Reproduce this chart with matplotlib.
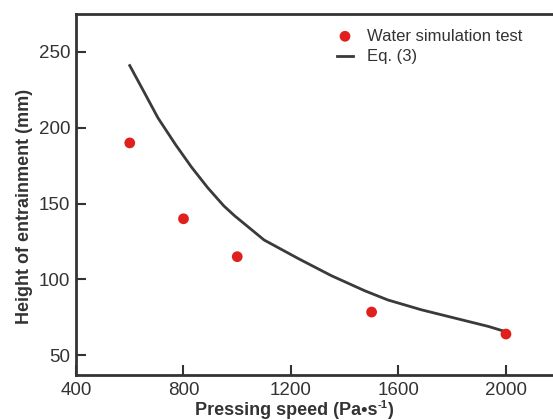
import numpy as np
import matplotlib.pyplot as plt

plt.rcParams['font.family'] = ['Liberation Sans', 'DejaVu Sans']

# water simulation test points
test_speed = [600, 800, 1000, 1500, 2000]
test_height = [190, 140, 115, 78.5, 64]

# Eq. (3) curve
eq_speed = [600, 655, 705, 770, 830, 890, 950, 990, 1100, 1230, 1350, 1475,
            1560, 1685, 1810, 1935, 2000]
eq_height = [241, 223, 206.5, 189, 174, 160.5, 148.5, 142, 126, 113.5, 102.5, 92.5,
             86.5, 80, 74.5, 69, 65.5]

xticks = [400, 800, 1200, 1600, 2000]
yticks = [50, 100, 150, 200, 250]

dark = '#333333'

fig = plt.figure(figsize=(5.53, 4.2), dpi=100)
ax = fig.add_axes([76/553, 1-375/420, 1-76/553, (375-14)/420])

line, = ax.plot(eq_speed, eq_height, color='#3a3a3a', lw=2, label='Eq. (3)', zorder=2)
pts = ax.scatter(test_speed, test_height, s=60, color='#e0201c', edgecolors='none',
                 label='Water simulation test', zorder=3)

ax.set_xlim(400, 2175)
ax.set_ylim(37, 275)
ax.set_xticks(xticks)
ax.set_yticks(yticks)
ax.tick_params(direction='in', length=7, width=1.5, color=dark,
               labelsize=13.5, labelcolor=dark, pad=4)
ax.tick_params(axis='x', pad=5)
for s in ['left', 'bottom', 'top']:
    ax.spines[s].set_linewidth(2)
    ax.spines[s].set_color(dark)
ax.spines['right'].set_visible(False)

# x label built from pieces so the superscript stays small
lab = dict(fontsize=13, fontweight='bold', color=dark)
t1 = fig.text(195/553, 1-415/420, 'Pressing speed (Pa\u2022s', ha='left', va='baseline', **lab)
t2 = ax.annotate('-1', xy=(1, 0.55), xycoords=t1, ha='left', va='bottom',
                 fontsize=8, fontweight='bold', color=dark)
ax.annotate(')', xy=(1, 0), xycoords=(t2, t1), ha='left', va='bottom', **lab)

ax.set_ylabel('Height of entrainment (mm)', fontsize=13, fontweight='bold', color=dark)
ax.yaxis.set_label_coords(-(76-33)/477, 1-(206-14)/361)

ax.legend([pts, line], ['Water simulation test', 'Eq. (3)'],
          loc='upper left', bbox_to_anchor=((330-76)/477, 1-(22-14)/361),
          frameon=False, fontsize=12, labelcolor=dark, handlelength=1.0,
          handletextpad=0.8, borderaxespad=0, labelspacing=0.35)

fig.savefig('out.png', dpi=100)
